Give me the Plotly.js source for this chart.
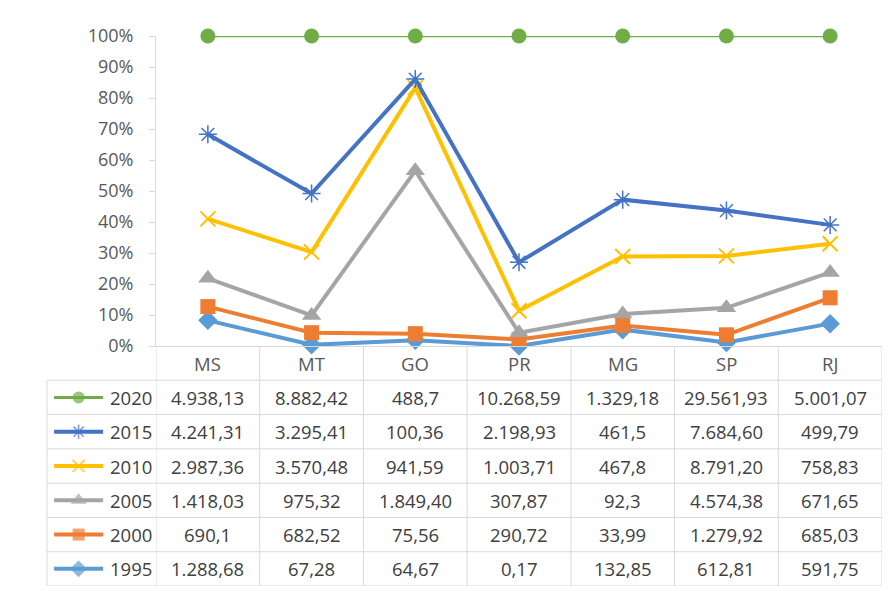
<!DOCTYPE html>
<html>
<head>
<meta charset="utf-8">
<script src="https://cdn.plot.ly/plotly-3.0.1.min.js"></script>
<style>
  html, body { margin: 0; padding: 0; background: #ffffff; }
  #chart { width: 895px; height: 591px; }
</style>
</head>
<body>
<div id="chart"></div>
<script>
// ---- data (as printed in the data table) ----
const categories = ['MS', 'MT', 'GO', 'PR', 'MG', 'SP', 'RJ'];
const years = ['2020', '2015', '2010', '2005', '2000', '1995'];
const v2020 = ['4.938,13', '8.882,42', '488,7', '10.268,59', '1.329,18', '29.561,93', '5.001,07'];
const v2015 = ['4.241,31', '3.295,41', '100,36', '2.198,93', '461,5', '7.684,60', '499,79'];
const v2010 = ['2.987,36', '3.570,48', '941,59', '1.003,71', '467,8', '8.791,20', '758,83'];
const v2005 = ['1.418,03', '975,32', '1.849,40', '307,87', '92,3', '4.574,38', '671,65'];
const v2000 = ['690,1', '682,52', '75,56', '290,72', '33,99', '1.279,92', '685,03'];
const v1995 = ['1.288,68', '67,28', '64,67', '0,17', '132,85', '612,81', '591,75'];
const yTickValues = [0, 10, 20, 30, 40, 50, 60, 70, 80, 90, 100];
const yTickLabels = ['0%', '10%', '20%', '30%', '40%', '50%', '60%', '70%', '80%', '90%', '100%'];

// ---- styles ----
const seriesValues = { '2020': v2020, '2015': v2015, '2010': v2010, '2005': v2005, '2000': v2000, '1995': v1995 };
const styles = {
  '2020': { color: '#70ad47', width: 2.25, symbol: 'circle',        size: 15, lsize: 12, mlw: 0 },
  '2015': { color: '#4472c4', width: 4,    symbol: 'asterisk-open', size: 15, lsize: 12, mlw: 1.5 },
  '2010': { color: '#ffc000', width: 4,    symbol: 'x-thin-open',   size: 15, lsize: 12, mlw: 2 },
  '2005': { color: '#a5a5a5', width: 4,    symbol: 'triangle-up',   size: 17, lsize: 14, mlw: 0 },
  '2000': { color: '#ed7d31', width: 4,    symbol: 'square',        size: 15, lsize: 12, mlw: 0 },
  '1995': { color: '#5b9bd5', width: 4,    symbol: 'diamond',       size: 15, lsize: 13, mlw: 0 }
};
const parseBR = s => parseFloat(s.replace(/\./g, '').replace(',', '.'));

const W = 895, H = 591;
const plotL = 156, plotR = 882, plotT = 36, axisY = 346, tableB = 586, tableL = 47;
const gridColor = '#d9d9d9';
const font = 'Open Sans, Lato, sans-serif';

const traces = [];
// stacked (100%) lines: bottom-most series first
const stackOrder = years.slice().reverse();
stackOrder.forEach((yr, i) => {
  const st = styles[yr];
  const t = {
    type: 'scatter', mode: 'lines+markers', name: yr,
    x: categories, y: seriesValues[yr].map(parseBR),
    stackgroup: 'one', fill: 'none',
    line: { color: st.color, width: st.width },
    marker: { color: st.color, symbol: st.symbol, size: st.size, line: { color: st.color, width: st.mlw } },
    cliponaxis: false, hoverinfo: 'skip', showlegend: false
  };
  if (i === 0) t.groupnorm = 'percent';
  traces.push(t);
});

// legend keys inside the table
years.forEach((yr, r) => {
  const st = styles[yr];
  const rowY = r + 1.5;
  traces.push({
    type: 'scatter', mode: 'lines+markers', xaxis: 'x2', yaxis: 'y2',
    x: [0.065, 0.29, 0.515], y: [rowY, rowY, rowY],
    line: { color: st.color, width: st.width < 3 ? 3 : 4 },
    marker: { color: st.color, symbol: st.symbol, size: [0, st.lsize, 0], line: { color: st.color, width: st.mlw } },
    cliponaxis: false, hoverinfo: 'skip', showlegend: false
  });
});

const shapes = [];
const annotations = [];
const line = { color: gridColor, width: 1 };
// horizontal table lines
for (let r = 1; r <= 7; r++) {
  shapes.push({ type: 'line', xref: 'paper', yref: 'y2', x0: tableL / W, x1: plotR / W, y0: r, y1: r, line });
}
// vertical column lines
for (let k = 0; k <= categories.length; k++) {
  shapes.push({ type: 'line', xref: 'x', yref: 'y2', x0: k - 0.5, x1: k - 0.5, y0: 0, y1: 7, line });
}
// left edge
shapes.push({ type: 'line', xref: 'paper', yref: 'y2', x0: tableL / W, x1: tableL / W, y0: 1, y1: 7, line });

// header labels
categories.forEach(c => {
  annotations.push({ xref: 'x', yref: 'y2', x: c, y: 0.5, text: c, showarrow: false,
    font: { family: font, size: 18.5, color: '#595959' } });
});
// cell values and year labels
years.forEach((yr, r) => {
  seriesValues[yr].forEach((s, k) => {
    annotations.push({ xref: 'x', yref: 'y2', x: categories[k], y: r + 1.5, text: s, showarrow: false,
      font: { family: font, size: 18.5, color: '#404040' } });
  });
  annotations.push({ xref: 'x2', yref: 'y2', x: 0.555, y: r + 1.5, text: yr, showarrow: false, xanchor: 'left',
    font: { family: font, size: 18.5, color: '#404040' } });
});

const layout = {
  width: W, height: H,
  margin: { l: 0, r: 0, t: 0, b: 0 },
  paper_bgcolor: '#ffffff', plot_bgcolor: 'rgba(0,0,0,0)',
  showlegend: false,
  font: { family: font },
  xaxis: {
    domain: [plotL / W, plotR / W], type: 'category', range: [-0.5, categories.length - 0.5],
    showticklabels: false, ticks: '', showgrid: false, zeroline: false,
    showline: true, linecolor: gridColor, linewidth: 1, anchor: 'y', fixedrange: true
  },
  yaxis: {
    domain: [(H - axisY) / H, (H - plotT) / H], range: [0, 100.0001],
    tickmode: 'array', tickvals: yTickValues, ticktext: yTickLabels, ticks: 'outside', ticklen: 6, tickcolor: gridColor,
    ticklabelstandoff: 12,
    showline: true, linecolor: gridColor, linewidth: 1, showgrid: false, zeroline: false,
    tickfont: { family: font, size: 18, color: '#595959' }, anchor: 'x', fixedrange: true
  },
  xaxis2: { domain: [tableL / W, plotL / W], range: [0, 1], visible: false, anchor: 'y2', fixedrange: true },
  yaxis2: { domain: [(H - tableB) / H, (H - axisY) / H], range: [7, 0], visible: false, anchor: 'x2', fixedrange: true },
  shapes, annotations
};

Plotly.newPlot('chart', traces, layout, { displayModeBar: false, staticPlot: true });
</script>
</body>
</html>
